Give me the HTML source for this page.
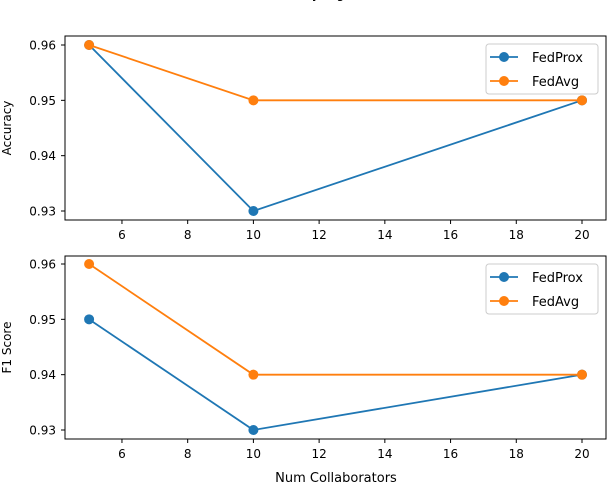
<!DOCTYPE html>
<html><head><meta charset="utf-8"><style>body{margin:0;background:#fff}svg{font-family:"DejaVu Sans","Liberation Sans",sans-serif}</style></head>
<body>
<svg id="c" width="608" height="484"></svg>
<script>
const xs = [5, 10, 20];
const accFedProx = [0.96, 0.93, 0.95];
const accFedAvg = [0.96, 0.95, 0.95];
const f1FedProx = [0.95, 0.93, 0.94];
const f1FedAvg = [0.96, 0.94, 0.94];
const xTicks = [6, 8, 10, 12, 14, 16, 18, 20];
const yTicks = [0.93, 0.94, 0.95, 0.96];
const seriesNames = ["FedProx", "FedAvg"];
const colors = ["#1f77b4", "#ff7f0e"];

const NS = "http://www.w3.org/2000/svg";
const svg = document.getElementById('c');
function el(t, a, p) { const e = document.createElementNS(NS, t); for (const k in a) e.setAttribute(k, a[k]); (p || svg).appendChild(e); return e; }
const sx = v => 582 - (20 - v) * 32.86;

const title = el('text', {x: 320, y: -2, 'text-anchor': 'middle', 'font-size': 13, fill: '#000'});


title.textContent = 'Metrics by Algorithm';

function panel(top, bottom, y96, y93, yLab, series, name, showXLabel) {
  const sy = v => y96 + (0.96 - v) / 0.03 * (y93 - y96);
  const g = el('g', {});
  
  
  xTicks.forEach(t => {
    el('line', {x1: sx(t), x2: sx(t), y1: bottom, y2: bottom + 4, stroke: '#000'}, g);
    const tx = el('text', {x: sx(t), y: bottom + 19, 'text-anchor': 'middle', 'font-size': 12}, g);
    
    
    tx.textContent = t;
  });
  yTicks.forEach(t => {
    el('line', {x1: 61, x2: 65, y1: sy(t), y2: sy(t), stroke: '#000'}, g);
    const tx = el('text', {x: 56, y: sy(t) + 4.5, 'text-anchor': 'end', 'font-size': 12}, g);
    
    
    tx.textContent = t.toFixed(2);
  });
  const yl = el('text', {x: 11, y: (top + bottom) / 2, 'text-anchor': 'middle', 'font-size': 12, transform: `rotate(-90 11 ${(top + bottom) / 2})`}, g);
  
  
  yl.textContent = yLab;
  series.forEach((s, i) => {
    const pl = el('polyline', {points: xs.map((x, j) => sx(x) + ',' + sy(s[j])).join(' '), fill: 'none', stroke: colors[i], 'stroke-width': 1.8}, g);
    
    
    xs.forEach((x, j) => {
      const c = el('circle', {cx: sx(x), cy: sy(s[j]), r: 5, fill: colors[i]}, g);
      
      
    });
  });
  el('rect', {x: 65, y: top, width: 541, height: bottom - top, fill: 'none', stroke: '#000', 'stroke-width': 1}, g);
  const lg = el('g', {}, g);
  
  
  el('rect', {x: 486, y: top + 8, width: 112, height: 50, rx: 3, fill: '#fff', stroke: '#ccc'}, lg);
  seriesNames.forEach((n, i) => {
    const y = top + 21 + i * 24;
    el('line', {x1: 490, x2: 518, y1: y, y2: y, stroke: colors[i], 'stroke-width': 1.8}, lg);
    el('circle', {cx: 504, cy: y, r: 5, fill: colors[i]}, lg);
    const t = el('text', {x: 532, y: y + 5, 'font-size': 13}, lg);
    
    
    t.textContent = n;
  });
  if (showXLabel) {
    const xl = el('text', {x: 336, y: 482, 'text-anchor': 'middle', 'font-size': 13}, g);
    
    
    xl.textContent = 'Num Collaborators';
  }
}
panel(36, 220, 45, 211, 'Accuracy', [accFedProx, accFedAvg], 'accuracy-panel', false);
panel(256, 439, 264, 430, 'F1 Score', [f1FedProx, f1FedAvg], 'f1-panel', true);
</script>
</body></html>
